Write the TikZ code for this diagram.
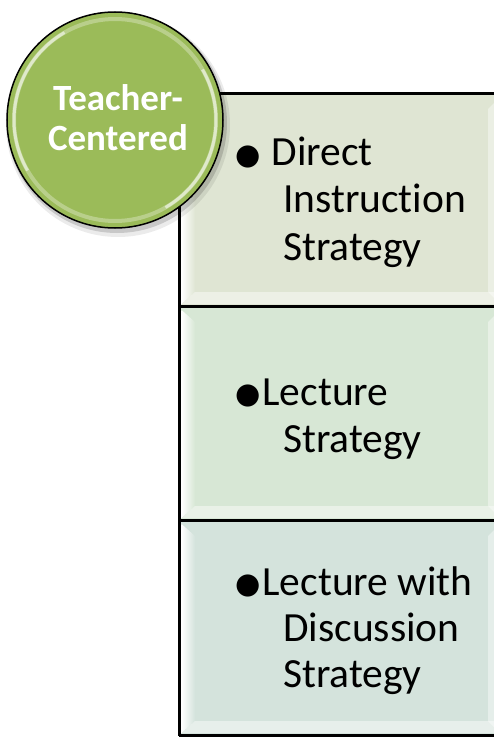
\documentclass[tikz,border=0pt]{standalone}
\usepackage{fontspec}
\setmainfont{Carlito}[Ligatures={NoCommon}]
\newfontfamily\dejavu{DejaVu Sans}
\definecolor{circgreen}{HTML}{9BBB59}
\definecolor{boxA}{HTML}{DFE5D3}
\definecolor{boxB}{HTML}{D7E7D5}
\definecolor{boxC}{HTML}{D4E3DC}
\newcommand{\bul}{\raisebox{1.5pt}{\dejavu\fontsize{29}{29}\selectfont ●}}
\tikzset{
  stratbox/.style={draw=black, line width=1.8pt, rectangle, anchor=north west, inner sep=0pt, minimum width=340pt},
  strattext/.style={anchor=base west, inner sep=0pt, font=\fontsize{41.5}{47}\selectfont, text=black},
}
\begin{document}
\begin{tikzpicture}[x=1pt,y=-1pt]
\useasboundingbox (0,0) rectangle (494,738);
% boxes
\node[stratbox, fill=boxA, minimum height=213pt] (b1) at (179,93) {};
\node[stratbox, fill=boxB, minimum height=214pt] (b2) at (179,306) {};
\node[stratbox, fill=boxC, minimum height=215pt] (b3) at (179,520) {};
% bevels
\foreach \t/\b/\c in {93/306/boxA,306/520/boxB,520/735/boxC}{
  \shade[left color=white, right color=\c] (181.5,\t+4) -- (195,\t+16) -- (195,\b-14) -- (181.5,\b-2) -- cycle;
  \fill[white, opacity=0.45] (182,\b-2) -- (195,\b-14) -- (500,\b-14) -- (500,\b-2) -- cycle;
  \fill[white, opacity=0.4] (488,\t+16) -- (494,\t+10) -- (494,\b-8) -- (488,\b-14) -- cycle;
}
\draw[line width=1.8pt] (179,93) -- (520,93);
\draw[line width=1.8pt] (179,306) -- (520,306);
\draw[line width=1.8pt] (179,520) -- (520,520);
\draw[line width=1.8pt] (179,735) -- (520,735);
\draw[line width=1.8pt] (179,92.1) -- (179,735.9);
% texts
\node[strattext] (t1) at (235,166) {\vtop{\baselineskip=47pt\hbox{\bul\hspace{11pt}Direct}\hbox{\hspace*{48pt}Instruction}\hbox{\hspace*{48pt}Strategy}}};
\node[strattext] (t2) at (235,405) {\vtop{\baselineskip=47pt\hbox{\bul\hspace{2pt}Lecture}\hbox{\hspace*{48pt}Strategy}}};
\node[strattext] (t3) at (235,595) {\vtop{\baselineskip=46pt\hbox{\bul\hspace{2pt}Lecture with}\hbox{\hspace*{48pt}Discussion}\hbox{\hspace*{48pt}Strategy}}};
% circle
\fill[black, opacity=0.15] (117,123) circle (110);
\fill[black, opacity=0.08] (118,125) circle (112);
\node[circle, draw=black, line width=1.5pt, fill=circgreen, minimum size=216pt, inner sep=0pt] (c) at (115,120) {};
\draw[white, opacity=0.3, line width=4pt] (115,120) circle (101);
\draw[white, opacity=0.55, line width=3pt] ([shift={(115,120)}]150:101) arc[start angle=150, end angle=240, radius=101];
\draw[white, opacity=0.55, line width=3pt] ([shift={(115,120)}]330:101) arc[start angle=330, end angle=420, radius=101];
\node[align=center, text=white, font=\bfseries\fontsize{37}{40}\selectfont, inner sep=0pt] (lbl) at (118,118) {Teacher-\\Centered};
\end{tikzpicture}
\end{document}
